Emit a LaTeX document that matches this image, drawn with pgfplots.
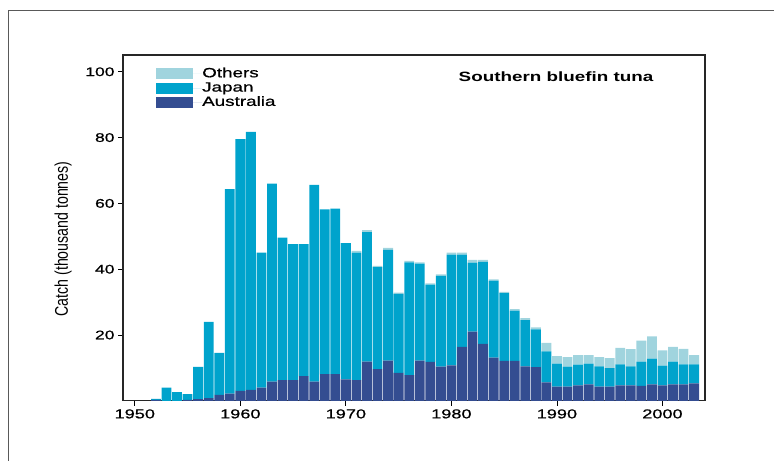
\documentclass[border=0pt]{standalone}
\usepackage{fontspec}
\setmainfont{Liberation Sans}[FakeStretch=1.4]
\newfontfamily\plainfont{Liberation Sans}
\newfontfamily\semifont{Liberation Sans}[FakeStretch=1.4, FakeBold=0.8]
\usepackage{graphicx}
\usepackage{pgfplots}
\pgfplotsset{compat=1.18}
\usepackage{pgfplotstable}
\definecolor{aus}{RGB}{52,77,145}
\definecolor{jap}{RGB}{0,163,204}
\definecolor{oth}{RGB}{160,212,222}
\pgfplotstableread{
year aus jap oth
1952 0.3 0.3 0
1953 0 4.0 0
1954 0 2.6 0
1955 0.3 1.7 0
1956 0.5 9.8 0
1957 0.8 23.2 0
1958 1.8 12.8 0
1959 2.2 62.1 0
1960 3.0 76.5 0
1961 3.3 78.4 0
1962 4.0 41.0 0
1963 5.8 60.2 0
1964 6.3 43.3 0
1965 6.3 41.3 0
1966 7.5 40.1 0
1967 5.8 59.8 0
1968 8.1 50.1 0
1969 8.1 50.3 0
1970 6.5 41.4 0
1971 6.3 38.7 0.6
1972 11.9 39.4 0.6
1973 9.6 31.0 0.4
1974 12.2 33.7 0.6
1975 8.5 24.0 0.4
1976 7.8 34.3 0.4
1977 12.2 29.5 0.4
1978 11.8 23.5 0.4
1979 10.4 27.6 0.4
1980 10.8 33.6 0.6
1981 16.4 28.0 0.6
1982 21.0 21.0 0.8
1983 17.3 24.9 0.6
1984 13.1 23.4 0.4
1985 12.1 20.6 0.4
1986 12.1 15.3 0.5
1987 10.5 14.0 0.6
1988 10.2 11.5 0.6
1989 5.6 9.4 2.6
1990 4.3 7.0 2.3
1991 4.3 6.1 2.9
1992 4.7 6.3 2.9
1993 5.0 6.3 2.6
1994 4.3 6.2 2.8
1995 4.3 5.6 3.1
1996 4.7 6.4 5.0
1997 4.7 5.8 5.2
1998 4.5 7.4 6.4
1999 5.0 7.8 6.8
2000 4.7 6.0 4.6
2001 5.0 6.9 4.5
2002 5.0 6.1 4.7
2003 5.3 5.8 2.8
}\catchdata
\begin{document}
\begin{tikzpicture}
\useasboundingbox (0,0) rectangle (774bp,461bp);
\draw[black!65, line width=0.8bp] (8bp,0) -- (8bp,451bp) -- (774bp,451bp);
\begin{axis}[
  at={(123bp,60.2bp)}, anchor=south west,
  scale only axis, width=582bp, height=345.8bp,
  xmin=1948.88, xmax=2004.03, ymin=0, ymax=105.1,
  ybar stacked, bar width=0.93,
  xtick={1950,1960,...,2000}, ytick={20,40,60,80,100},
  tick pos=left,
  tick align=outside, major tick length=5bp,
  tick style={black, line width=0.8bp},
  axis line style={black!85, line width=1.2bp},
  /pgf/number format/assume math mode=true,
  xticklabel style={/pgf/number format/1000 sep={}, font=\semifont\fontsize{13}{14}\selectfont},
  yticklabel style={font=\semifont\fontsize{12.5}{14}\selectfont},
  ylabel={\scalebox{1}[1.3]{\plainfont\fontsize{14.2}{15}\selectfont Catch (thousand tonnes)}},
  ylabel style={at={(axis description cs:-0.103,0.468)}, anchor=center},
  legend style={at={(axis description cs:0.0567,0.965)}, anchor=north west,
    draw=none, fill=none, inner sep=0pt, row sep=1.3bp,
    font=\semifont\fontsize{13.5}{14}\selectfont,
    nodes={inner sep=0pt, text height=10bp, text depth=3bp},
    /tikz/every even column/.append style={column sep=0bp}},
  legend cell align=left,
  legend image code/.code={\fill[#1] (0bp,-5.5bp) rectangle (37bp,5.5bp); \path (0,0) -- (46bp,0);},
  reverse legend,
]
\addplot[fill=aus, draw=none] table[x=year, y=aus]{\catchdata};
\addplot[fill=jap, draw=none] table[x=year, y=jap]{\catchdata};
\addplot[fill=oth, draw=none] table[x=year, y=oth]{\catchdata};
\legend{Australia, Japan, Others}
\node[font=\bfseries\fontsize{13.5}{14}\selectfont] at (rel axis cs:0.744,0.936) {Southern bluefin tuna};
\end{axis}
\end{tikzpicture}
\end{document}
